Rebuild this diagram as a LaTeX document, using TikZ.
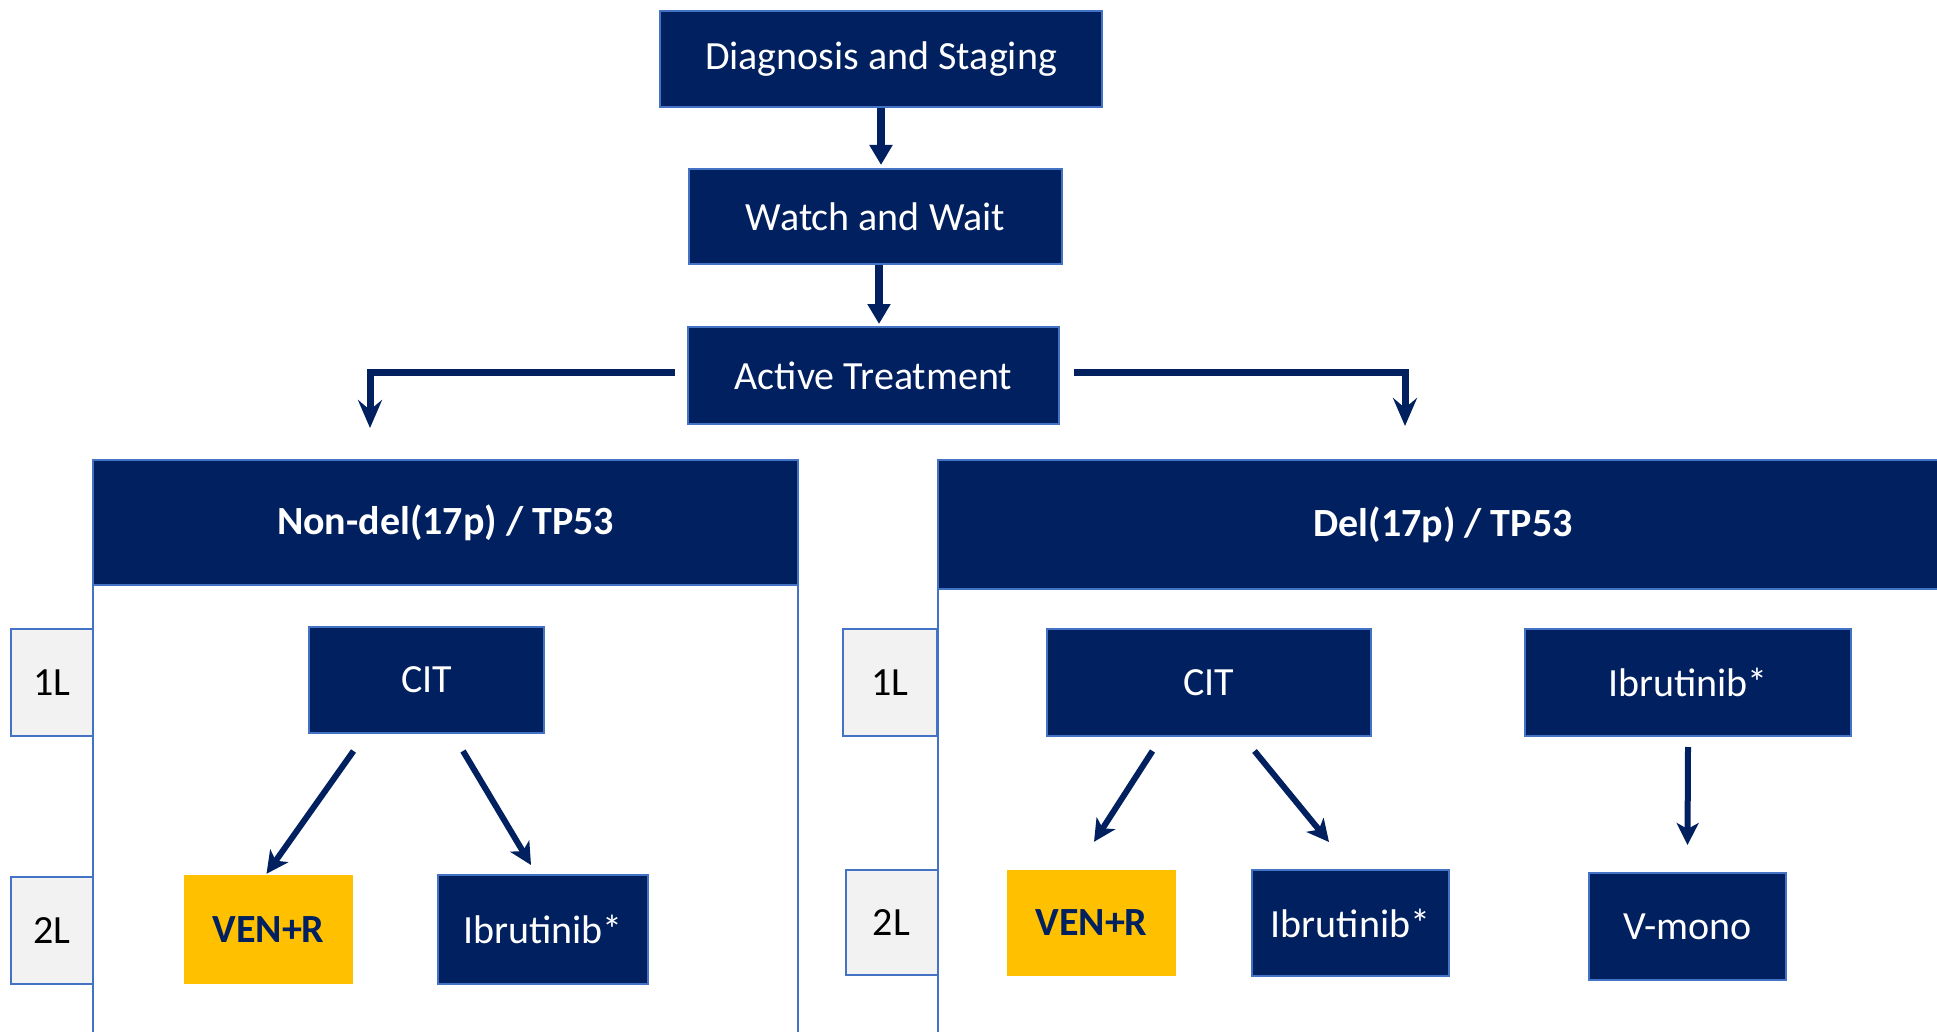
\documentclass[tikz,border=0pt]{standalone}
\usepackage{fontspec}
\setmainfont{Carlito}
\usetikzlibrary{arrows.meta}
\definecolor{navy}{HTML}{002060}
\definecolor{edgeblue}{HTML}{4472C4}
\definecolor{gold}{HTML}{FFC000}
\definecolor{lightgrey}{HTML}{F2F2F2}
\begin{document}
\begin{tikzpicture}[x=1pt,y=-1pt,
  box/.style={draw=edgeblue,line width=2pt,fill=navy,text=white,inner sep=0pt,
    font=\fontsize{40}{48}\selectfont},
  headbox/.style={box,font=\fontsize{40}{48}\selectfont\bfseries},
  yellowbox/.style={fill=gold,text=navy,inner sep=0pt,font=\fontsize{40}{48}\selectfont\bfseries},
  linebox/.style={draw=edgeblue,line width=2pt,fill=lightgrey,text=black,inner sep=0pt,
    font=\fontsize{40}{48}\selectfont},
  panelline/.style={draw=edgeblue,line width=2pt},
  bigarrow/.style={draw=navy,line width=8pt,-{Triangle[width=22pt,length=20pt]}},
  brancharrow/.style={draw=navy,line width=7pt,-{Stealth[width=24pt,length=28pt,inset=10pt]}},
  diagarrow/.style={draw=navy,line width=6pt,-{Stealth[width=22pt,length=22pt,inset=6pt]}}
]
\useasboundingbox (0,0) rectangle (1937,1032);
\fill[white] (0,0) rectangle (1937,1032);

% panels
\draw[panelline] (93,585) -- (93,1032);
\draw[panelline] (798,585) -- (798,1032);
\draw[panelline] (937.5,589) -- (937.5,1032);

% top chain
\node[box,minimum width=442pt,minimum height=96pt] (diag) at (881,59) {Diagnosis and Staging};
\node[box,minimum width=373pt,minimum height=95pt] (watch) at (875.5,216.5) {Watch and Wait};
\node[box,minimum width=371pt,minimum height=97pt] (active) at (873.5,375.5) {Active Treatment};

% headers
\node[headbox,minimum width=705pt,minimum height=125pt] (lhead) at (445.5,522.5) {Non-del(17p) / TP53};
\node[headbox,minimum width=1001pt,minimum height=129pt,text width=0pt] (rhead) at (1438,524.5) {};
\node[text=white,font=\fontsize{40}{48}\selectfont\bfseries,inner sep=0pt] (rheadtext) at (1443,524.5) {Del(17p) / TP53};

% line labels
\node[linebox,minimum width=82.5pt,minimum height=107pt] (l1) at (52,682.5) {1L};
\node[linebox,minimum width=82.5pt,minimum height=107pt] (l2) at (52,930.5) {2L};
\node[linebox,minimum width=94.5pt,minimum height=107pt] (r1) at (890,682.5) {1L};
\node[linebox,minimum width=92pt,minimum height=105pt] (r2) at (891.5,922.5) {2L};

% left panel
\node[box,minimum width=235pt,minimum height=106pt] (lcit) at (426.5,680) {CIT};
\node[yellowbox,minimum width=169pt,minimum height=109pt] (lven) at (268.5,929.5) {VEN+R};
\node[box,minimum width=210pt,minimum height=109pt] (libr) at (543,929.5) {Ibrutinib*};

% right panel
\node[box,minimum width=324pt,minimum height=107pt] (rcit) at (1208.5,682.5) {CIT};
\node[box,minimum width=326pt,minimum height=107pt] (ribrone) at (1688,682.5) {Ibrutinib*};
\node[yellowbox,minimum width=169pt,minimum height=106pt] (rven) at (1091.5,923) {VEN+R};
\node[box,minimum width=197pt,minimum height=106pt] (ribrtwo) at (1350.5,923) {Ibrutinib*};
\node[box,minimum width=197pt,minimum height=107pt] (vmono) at (1687.5,926.5) {V-mono};

% arrows top
\draw[bigarrow] (diag.south) -- ([yshift=3pt]diag.south |- watch.north);
\draw[bigarrow] ([xshift=3.5pt]watch.south) -- ([xshift=3.5pt,yshift=2pt]watch.south |- active.north);

\coordinate (ltip) at (370,428);
\coordinate (rtip) at (1405,426);
\draw[brancharrow] ([xshift=-12pt,yshift=3.5pt]active.west) -| (ltip);
\draw[brancharrow] ([xshift=14pt,yshift=3.5pt]active.east) -| (rtip);

% diagonal arrows
\draw[diagarrow] ([xshift=-73pt,yshift=-17pt]lcit.south) -- ([xshift=-2pt,yshift=1pt]lven.north);
\draw[diagarrow] ([xshift=36.5pt,yshift=-17pt]lcit.south) -- ([xshift=-12pt,yshift=9pt]libr.north);
\draw[diagarrow] ([xshift=-56pt,yshift=-14pt]rcit.south) -- ([xshift=2.5pt,yshift=28pt]rven.north);
\draw[diagarrow] ([xshift=46pt,yshift=-14pt]rcit.south) -- ([xshift=-21.5pt,yshift=27pt]ribrtwo.north);
\draw[diagarrow] ([yshift=-10pt]ribrone.south) -- ([yshift=27pt]vmono.north);
\end{tikzpicture}
\end{document}
